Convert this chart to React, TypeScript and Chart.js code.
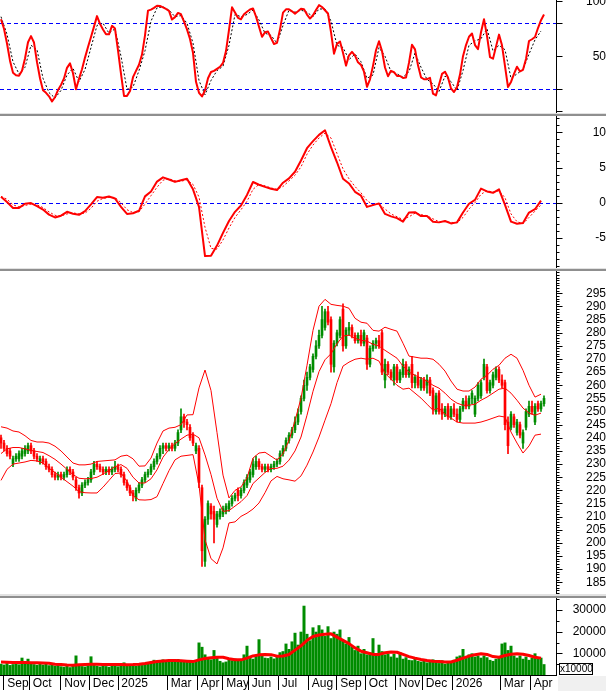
import React, { useEffect, useRef } from 'react';
import { Chart, registerables } from 'chart.js';

Chart.register(...registerables);

// ---------------- data ----------------
const monthTicks = [1, 9.5, 20, 29.5, 39, 55.5, 65.5, 74, 82.5, 92.5, 102.5, 112, 121.5, 131.5, 140.5, 150.5, 166.5, 176.5];
const monthLabels = ['Sep', 'Oct', 'Nov', 'Dec', '2025', 'Mar', 'Apr', 'May', 'Jun', 'Jul', 'Aug', 'Sep', 'Oct', 'Nov', 'Dec', '2026', 'Mar', 'Apr'];

const rsiTickLabels = [50, 100];
const rsiTickMarks = [0, 20, 50, 80, 100];
const rsiLevels = [20, 80];
const macdTickLabels = [-5, 0, 5, 10];
const macdLevels = [0];
const priceTickLabels = [185, 190, 195, 200, 205, 210, 215, 220, 225, 230, 235, 240, 245, 250, 255, 260, 265, 270, 275, 280, 285, 290, 295];
const volumeTickLabels = [10000, 20000, 30000];
const volumeMinorTicks = [5000, 15000, 25000, 35000];

// [open, high, low, close]
const ohlc: number[][] = [
  [240,241,236,238],[238,239,235,236],[236,237,233,234],[235,236,232,233],[230,233,229,232],
  [232,234,231,233],[232,235,231,234],[233,236,232,235],[234,237,233,236],[235,238,234,237],
  [237,238,234,235],[235,236,232,233],[233,234,231,232],[231,233,230,232],[232,233,230,231],
  [231,232,228,229],[229,230,227,228],[228,229,225,226],[226,227,224,225],[225,227,224,226],
  [226,227,224,225],[225,227,224,226],[226,229,225,228],[228,229,226,227],[227,228,224,225],
  [224,225,220,221],[221,222,217,219],[219,223,218,222],[222,224,221,223],[223,225,222,224],
  [224,228,223,227],[227,231,226,230],[230,231,228,229],[229,230,227,228],[228,229,226,227],
  [227,229,226,228],[228,229,226,227],[227,229,226,228],[228,231,227,229],[229,230,227,228],
  [228,229,225,226],[226,227,222,223],[223,224,220,221],[221,222,218,219],[219,220,216,218],
  [217,221,216,220],[220,223,219,222],[222,225,221,224],[224,227,223,226],[226,228,225,227],
  [227,230,226,229],[229,232,228,231],[231,234,230,233],[233,237,232,236],[236,238,234,237],
  [237,238,235,236],[236,238,235,237],[237,238,235,236],[236,239,235,238],[238,243,237,242],
  [243,251,242,248],[248,249,244,246],[246,247,243,245],[244,245,239,240],[241,242,237,238],
  [235,238,234,237],[236,237,221,223],[221,222,191,197],[193,210,191,209],[209,216,207,215],
  [214,215,209,211],[212,214,200,209],[207,212,206,211],[210,213,209,212],[211,214,210,213],
  [212,215,211,214],[213,216,212,215],[215,218,214,217],[217,219,216,218],[220,221,216,218],
  [218,221,217,220],[220,224,219,223],[222,226,221,225],[224,228,223,227],[226,232,225,230],
  [229,233,228,231],[231,232,228,229],[229,230,227,228],[228,230,227,229],[229,230,227,228],
  [228,230,227,229],[229,231,228,230],[230,232,229,231],[231,235,230,234],[234,237,233,236],
  [236,240,235,239],[239,242,238,241],[241,244,240,243],[243,248,242,246],[246,251,245,249],
  [250,256,249,255],[255,262,254,260],[260,265,258,263],[263,268,262,267],[266,272,265,271],
  [271,277,270,275],[275,281,274,279],[279,290,278,285],[282,289,281,288],[288,290,283,284],
  [285,286,265,268],[267,277,265,276],[276,281,275,280],[279,286,278,285],[289,291,273,275],
  [275,282,274,281],[281,284,279,282],[282,283,278,279],[279,280,276,277],[277,280,276,279],
  [279,281,275,276],[276,281,275,280],[278,279,266,268],[268,275,267,274],[274,277,273,276],
  [276,278,274,277],[277,279,274,275],[280,281,264,265],[262,270,259,268],[268,269,264,265],
  [265,266,262,263],[262,268,260,267],[267,268,261,262],[262,266,261,265],[264,270,263,268],
  [268,269,263,264],[264,267,263,266],[268,271,259,261],[261,264,259,263],[263,265,259,260],
  [259,263,258,262],[262,263,258,259],[260,264,257,262],[262,263,256,257],[258,259,249,251],
  [250,257,249,256],[257,258,249,250],[251,253,247,249],[249,252,248,251],[252,253,247,248],
  [248,252,247,251],[251,253,248,249],[249,251,246,247],[247,252,246,251],[251,255,250,254],
  [254,256,251,252],[252,256,251,255],[255,258,253,257],[249,256,248,255],[255,261,254,260],
  [256,262,255,261],[263,270,262,268],[267,268,257,258],[258,262,257,261],[260,265,259,264],
  [263,267,262,266],[266,267,261,262],[262,264,259,260],[261,262,243,245],[246,248,234,237],
  [244,250,243,249],[248,249,244,245],[242,247,241,246],[245,246,240,241],[238,243,236,242],
  [244,251,243,250],[249,254,248,252],[252,254,249,250],[246,253,245,252],[253,254,250,251],
  [251,254,250,253],[253,256,252,255],
];

const volume = [
  5200,4800,5500,4600,5000,5800,4900,8000,6200,7500,
  5400,5000,4700,5300,4800,5100,4500,4800,4300,4600,
  4000,3800,4400,3600,4200,9000,4600,4100,3900,4500,
  8600,5000,4300,3900,4600,4100,3800,4700,4400,4000,
  4600,5800,4300,4800,4500,4200,5200,4600,5400,5900,
  6200,7000,6400,6800,7200,6500,7000,6100,6600,7400,
  6800,6200,6900,6000,5800,6400,15000,13000,9500,8000,
  7200,11500,8500,6500,5800,6200,7000,6800,7600,6500,
  7000,9500,13500,8000,7500,8800,16500,9000,8000,7800,
  8500,7600,9000,10500,11000,14500,12000,15500,19500,14000,
  20000,32000,19000,16000,22000,20000,23000,21000,18000,22500,
  17000,20000,19000,21000,16000,14500,17500,13000,11500,13500,
  10000,12000,9500,10500,17000,9000,14000,11000,9500,10000,
  8500,9800,8000,10500,7500,8200,7000,6800,7500,6500,
  6200,7000,5800,6500,7200,6000,5500,6800,5200,6000,
  6500,7000,8500,9000,12000,8000,9500,10000,8500,9000,
  8000,9000,8200,7000,6500,7500,8000,14500,15000,11500,
  13500,9000,8000,9000,7500,8500,7000,8000,10000,7500,
  8000,5000,
];

// line series sampled every 2 bars
const volumeMA = [
  6000,5900,5800,5800,5800,5700,5700,5600,5400,5000,
  4800,4600,4500,4700,4900,5000,5000,4900,4800,4900,
  4800,4700,4800,5000,5300,5800,6200,6500,6700,6700,
  6600,6400,6200,7000,7600,8000,8200,8200,7500,7000,
  7000,7800,8800,9300,9500,9400,8700,8800,9500,11500,
  13500,16000,17800,18500,18800,19000,17500,16000,14500,12500,
  11000,10300,9500,9500,10300,10600,10500,9500,8500,7800,
  7200,6700,6400,6200,6000,6000,6800,7800,8700,9400,
  9800,9500,8500,8200,9000,9600,9800,9600,9000,8200,
  7800,
];

const bbUpper = [
  244.2,243.7,242.6,242.2,240.8,239.0,238.4,238.4,238.0,236.8,
  235.0,232.7,230.4,229.7,229.7,230.0,231.0,231.2,231.4,231.6,
  233.0,233.4,232.0,229.2,229.3,232.3,238.0,242.6,243.7,244.0,
  245.0,248.7,248.8,259.0,265.8,258.0,242.0,225.8,217.1,220.0,
  221.3,224.7,232.3,234.2,234.5,233.0,231.5,234.0,239.0,246.5,
  255.1,267.6,280.9,290.1,292.7,290.8,290.4,290.1,289.3,285.5,
  284.0,283.6,280.9,280.6,282.1,281.3,280.6,276.0,271.1,270.7,
  270.3,270.3,269.9,268.0,265.4,261.6,258.5,257.8,257.8,259.3,
  262.3,263.8,266.1,267.6,270.3,271.8,270.3,265.7,260.0,255.5,
  256.6,
];
const bbMiddle = [
  234.0,235.8,236.3,236.3,235.8,235.2,234.8,234.4,233.2,231.8,
  230.0,228.0,226.0,224.6,224.4,224.5,225.0,226.2,227.6,229.0,
  229.8,228.4,225.0,222.8,222.8,224.4,227.8,232.6,235.6,237.8,
  239.5,241.0,241.4,240.0,233.5,226.0,217.0,212.0,212.3,214.0,
  215.7,218.0,222.6,224.7,226.8,228.3,228.4,229.2,231.5,235.0,
  240.3,248.6,257.7,265.2,269.7,272.0,275.8,278.7,279.1,277.9,
  277.1,276.8,275.6,274.9,273.3,271.8,270.3,267.3,265.0,263.8,
  262.7,261.6,260.0,258.9,257.0,254.7,253.2,252.4,252.4,252.8,
  254.3,255.5,257.0,258.5,258.9,257.0,254.3,251.3,249.4,248.6,
  249.4,
];
const bbLower = [
  223.8,228.0,230.0,230.4,230.8,231.4,231.2,230.4,228.4,226.8,
  225.0,223.3,221.6,219.5,219.1,219.0,219.0,221.2,223.8,226.4,
  226.6,223.4,218.0,216.4,216.3,216.5,217.6,222.6,227.5,231.6,
  233.0,233.3,233.6,222.0,201.2,194.0,192.0,198.1,207.6,208.0,
  210.1,211.3,212.9,215.2,219.1,223.6,225.3,224.4,224.0,223.5,
  225.5,229.6,234.6,240.3,246.7,253.0,261.0,267.3,268.8,269.9,
  270.3,269.9,270.3,269.2,264.6,262.3,260.0,258.5,258.9,257.0,
  255.1,252.8,250.5,251.3,249.0,247.5,246.0,245.6,245.6,245.6,
  246.0,246.7,247.5,248.3,247.9,242.2,238.0,234.2,236.9,241.0,
  241.4,
];

// one value per bar
const rsi = [
  83.7,75,61.6,46,35,32.7,32.3,36.8,48,62.8,
  68.3,62.5,44.7,30,19.2,16.8,13.6,9,12.8,19.3,
  24,29.9,39.5,43.6,34.6,20,29.5,38.2,48.8,58.5,
  67.6,77,86.5,79.5,74.3,70,70,77.7,75.2,55.5,
  34,14,14,18.4,31,36.8,42.3,51.6,69.1,91.5,
  92.4,94,96,95.8,94.5,93,91.3,83.4,85.6,89.4,
  88.2,81.5,74.5,65.7,53.2,26.8,16.8,13.5,19,30,
  35.7,36.7,38.6,40.5,44,54.8,74,94.5,89.9,85,
  83.7,88.3,90.5,92.6,93.5,86.2,76.9,67.7,71.8,72.5,
  66.6,61.2,62.2,74.5,89.7,92.7,92.7,90.9,88.8,90.9,
  93.3,92.8,87.9,84.3,87.3,92,96.5,94.8,91.9,88.9,
  72,52.4,61.3,63.5,53.2,41.5,50.9,54,50.6,44.5,
  42.2,36,22.2,29.1,41.3,55.5,63.7,54.8,39.8,31.9,
  36.8,35.5,32.1,32.1,30.3,30.7,44.2,60.5,56.3,41.8,
  30.9,29.1,29.2,30.4,16,14.5,24.2,34,36,30.7,
  20.8,17.5,21.8,33.4,50.1,60.2,67.8,70.7,60.2,56.5,
  71.9,83.7,68.5,49.2,47.8,58.8,69.7,60,41.1,22,
  26.7,34.1,40.5,36.2,37.7,47.6,63.9,65.5,67.5,75.7,
  82.8,88,
];
// sampled every 2 bars
const rsiSignal = [
  86,70,45,34,40,60,56,30,17,12,
  19,33,39,27,38,58,78,80,71,75,
  50,20,22,37,55,82,94,95,92,86,
  87,80,62,28,15,28,37,41,60,88,
  86,88,92,83,71,69,62,78,92,90,
  92,90,86,93,93,82,60,58,47,52,
  45,30,33,58,50,36,34,31,36,53,
  40,29,25,18,32,27,19,37,60,64,
  66,75,55,60,56,30,34,38,52,65,
  73,
];
const macd = [
  0.85,0.1,-0.76,-0.74,-0.15,-0.05,-0.5,-0.98,-1.7,-2.1,
  -1.85,-1.3,-1.57,-1.72,-1.2,-0.25,0.8,0.7,0.88,0.6,
  -0.6,-1.6,-1.5,-1.15,0.9,1.6,3.0,3.6,3.3,2.96,
  3.2,3.4,1.9,-0.6,-7.6,-7.55,-6.1,-4.3,-2.6,-1.3,
  -0.4,1.1,2.94,2.55,2.25,1.98,1.8,2.84,3.45,4.4,
  6.0,7.75,8.75,9.65,10.3,7.9,5.75,3.4,2.74,1.55,
  1.0,-0.6,-0.35,-0.1,-1.6,-1.95,-2.2,-2.7,-1.4,-1.35,
  -1.9,-1.9,-2.7,-2.8,-2.6,-2.95,-2.8,-1.4,-0.15,0.4,
  2.0,1.6,1.4,1.9,-0.3,-2.7,-3.0,-2.9,-1.4,-0.93,
  0.3,
];
const macdSignal = [
  0.9,0.5,-0.3,-0.6,-0.4,-0.2,-0.3,-0.7,-1.3,-1.8,
  -1.9,-1.6,-1.45,-1.6,-1.5,-0.8,0.2,0.6,0.75,0.75,
  0.0,-1.0,-1.4,-1.3,-0.2,1.0,2.2,3.2,3.4,3.1,
  3.05,3.25,2.6,0.8,-3.5,-6.5,-6.6,-5.3,-3.6,-2.1,
  -1.0,0.2,1.9,2.6,2.4,2.1,1.9,2.3,3.1,3.9,
  5.1,6.9,8.2,9.2,9.9,9.2,7.0,4.8,3.4,2.3,
  1.4,0.3,-0.3,-0.2,-0.9,-1.6,-2.0,-2.4,-2.0,-1.5,
  -1.7,-1.85,-2.3,-2.7,-2.7,-2.8,-2.85,-2.1,-0.9,0.0,
  1.2,1.7,1.5,1.7,0.7,-1.6,-2.7,-3.0,-2.1,-1.2,
  -0.3,
];

// ---------------- styling / layout ----------------
const RED = '#ff0000';
const GREEN = '#008c00';
const BLUE = '#0000ff';
const FONT = { family: '"Liberation Sans", Arial, sans-serif', size: 12 };
const LINE_STEP = 2;
const PLOT_W = 556;
const AXIS_W = 50;
const X_MIN = -1 / 3;
const X_MAX = X_MIN + PLOT_W / 3;

const pts = (arr: number[], step = 1) => arr.map((y, i) => ({ x: i * step, y }));
const range = (a: number, b: number, s: number) => {
  const out: number[] = [];
  for (let v = a; v <= b + 1e-9; v += s) out.push(Math.round(v * 1000) / 1000);
  return out;
};

function rulerPlugin(major: number[], minor: number[], majorLen: number, minorLen: number) {
  return {
    id: 'ruler',
    afterDraw(chart: any) {
      const s = chart.scales.y;
      const ca = chart.chartArea;
      const ctx = chart.ctx;
      ctx.save();
      ctx.strokeStyle = '#000';
      ctx.lineWidth = 1;
      ctx.setLineDash([]);
      ctx.beginPath();
      const x0 = Math.round(ca.right) + 0.5;
      ctx.moveTo(x0, ca.top);
      ctx.lineTo(x0, ca.bottom);
      const tick = (v: number, len: number) => {
        const y = Math.round(s.getPixelForValue(v)) + 0.5;
        if (y < ca.top || y > ca.bottom) return;
        ctx.moveTo(x0, y);
        ctx.lineTo(x0 + len, y);
      };
      minor.forEach((v) => tick(v, minorLen));
      major.forEach((v) => tick(v, majorLen));
      ctx.stroke();
      ctx.restore();
    },
  };
}

function levelPlugin(levels: number[]) {
  return {
    id: 'levels',
    beforeDatasetsDraw(chart: any) {
      const s = chart.scales.y;
      const ca = chart.chartArea;
      const ctx = chart.ctx;
      ctx.save();
      ctx.strokeStyle = BLUE;
      ctx.lineWidth = 1;
      ctx.setLineDash([4, 3]);
      ctx.beginPath();
      levels.forEach((v) => {
        const y = Math.round(s.getPixelForValue(v)) + 0.5;
        ctx.moveTo(ca.left, y);
        ctx.lineTo(ca.right, y);
      });
      ctx.stroke();
      ctx.restore();
    },
  };
}

function xScale(show: boolean): any {
  if (!show) return { type: 'linear', min: X_MIN, max: X_MAX, display: false, offset: false };
  return {
    type: 'linear',
    min: X_MIN,
    max: X_MAX,
    offset: false,
    position: 'bottom',
    afterBuildTicks: (s: any) => {
      s.ticks = monthTicks.map((value) => ({ value }));
    },
    afterFit: (s: any) => {
      s.height = 16;
      s.paddingLeft = 0;
      s.paddingRight = 0;
    },
    grid: { display: true, drawOnChartArea: false, drawTicks: true, tickLength: 15, color: '#000', lineWidth: 1, offset: false },
    border: { display: true, color: '#000', width: 1 },
    ticks: {
      autoSkip: false,
      maxRotation: 0,
      minRotation: 0,
      align: 'start',
      padding: -13.5,
      color: '#000',
      font: FONT,
      callback: (_v: any, i: number) => ' ' + monthLabels[i],
    },
  };
}

function yScale(min: number, max: number, labels: number[], rightEdge: number, widest: number): any {
  return {
    type: 'linear',
    position: 'right',
    min,
    max,
    afterBuildTicks: (s: any) => {
      s.ticks = labels.map((value) => ({ value }));
    },
    afterFit: (s: any) => {
      s.width = AXIS_W;
      s.paddingTop = 0;
      s.paddingBottom = 0;
    },
    grid: { display: false, drawTicks: false },
    border: { display: false },
    ticks: {
      autoSkip: false,
      crossAlign: 'far',
      padding: rightEdge - widest,
      color: '#000',
      font: FONT,
      callback: (v: number) => String(v),
    },
  };
}

const common = {
  responsive: false,
  maintainAspectRatio: false,
  animation: false,
  devicePixelRatio: 1,
  events: [],
  layout: { padding: 0 },
  plugins: { legend: { display: false }, tooltip: { enabled: false } },
};

const lineDs = (data: any[], color: string, width: number, dash: number[] = [], order = 1) => ({
  type: 'line',
  data,
  borderColor: color,
  borderWidth: width,
  borderDash: dash,
  pointRadius: 0,
  tension: 0,
  fill: false,
  borderJoinStyle: 'round',
  order,
});

function rsiConfig(): any {
  return {
    type: 'line',
    data: {
      datasets: [
        lineDs(pts(rsi), RED, 2, [], 1),
        lineDs(pts(rsiSignal, LINE_STEP), '#000', 1, [2, 2], 2),
      ],
    },
    options: { ...common, scales: { x: xScale(false), y: yScale(-1.55, 101.18, rsiTickLabels, 48, 20.0) } },
    plugins: [levelPlugin(rsiLevels), rulerPlugin(rsiTickMarks, [], 6, 3)],
  };
}

function macdConfig(): any {
  return {
    type: 'line',
    data: {
      datasets: [
        lineDs(pts(macd, LINE_STEP), RED, 2, [], 1),
        lineDs(pts(macdSignal, LINE_STEP), RED, 1, [2, 2], 2),
      ],
    },
    options: { ...common, scales: { x: xScale(false), y: yScale(-9.29, 12.33, macdTickLabels, 39, 13.35) } },
    plugins: [levelPlugin(macdLevels), rulerPlugin(macdTickLabels, range(-9, 12, 1), 6, 3)],
  };
}

function priceConfig(): any {
  const colors = ohlc.map((c) => (c[3] >= c[0] ? GREEN : RED));
  return {
    type: 'bar',
    data: {
      datasets: [
        lineDs(pts(bbUpper, LINE_STEP), RED, 1, [], 1),
        lineDs(pts(bbMiddle, LINE_STEP), RED, 1, [], 1),
        lineDs(pts(bbLower, LINE_STEP), RED, 1, [], 1),
        {
          type: 'bar',
          data: ohlc.map((c, i) => ({ x: i, y: [c[0], c[3]] })),
          backgroundColor: colors,
          barThickness: 2,
          grouped: false,
          borderWidth: 0,
          order: 2,
        },
        {
          type: 'bar',
          data: ohlc.map((c, i) => ({ x: i, y: [c[2], c[1]] })),
          backgroundColor: colors,
          barThickness: 1,
          grouped: false,
          borderWidth: 0,
          order: 3,
        },
      ],
    },
    options: { ...common, scales: { x: xScale(false), y: yScale(180.55, 303.49, priceTickLabels, 47, 20.0) } },
    plugins: [rulerPlugin(priceTickLabels, range(181, 303, 1), 6, 3)],
  };
}

function volumeConfig(): any {
  return {
    type: 'bar',
    data: {
      datasets: [
        lineDs(pts(volumeMA, LINE_STEP), RED, 3, [], 1),
        {
          type: 'bar',
          data: pts(volume),
          backgroundColor: GREEN,
          barThickness: 3,
          grouped: false,
          borderWidth: 0,
          inflateAmount: 0,
          order: 2,
        },
      ],
    },
    options: { ...common, scales: { x: xScale(true), y: yScale(0, 35566, volumeTickLabels, 47, 33.37) } },
    plugins: [rulerPlugin(volumeTickLabels, volumeMinorTicks, 6, 3)],
  };
}

const panels = [
  { top: 0, height: 113 },
  { top: 116, height: 152 },
  { top: 271, height: 323 },
  { top: 598, height: 93 },
];

const separators = [
  { top: 113, light: 1, dark: 2 },
  { top: 268, light: 1, dark: 2 },
  { top: 594, light: 2, dark: 2 },
];

export default function App() {
  const r1 = useRef<HTMLCanvasElement>(null);
  const r2 = useRef<HTMLCanvasElement>(null);
  const r3 = useRef<HTMLCanvasElement>(null);
  const r4 = useRef<HTMLCanvasElement>(null);

  useEffect(() => {
    const charts: Chart[] = [];
    const builders = [rsiConfig, macdConfig, priceConfig, volumeConfig];
    [r1, r2, r3, r4].forEach((r, i) => {
      if (r.current) charts.push(new Chart(r.current, builders[i]()));
    });
    return () => charts.forEach((c) => c.destroy());
  }, []);

  const refs = [r1, r2, r3, r4];
  return (
    <div style={{ position: 'fixed', left: 0, top: 0, width: 606, height: 691, background: '#fff', overflow: 'hidden' }}>
      {panels.map((p, i) => (
        <canvas
          key={i}
          ref={refs[i]}
          width={606}
          height={p.height}
          style={{ position: 'absolute', left: 0, top: p.top, width: 606, height: p.height }}
        />
      ))}
      {separators.map((s, i) => (
        <React.Fragment key={i}>
          <div style={{ position: 'absolute', left: 0, top: s.top, width: 606, height: s.light, background: '#e2e2e2' }} />
          <div style={{ position: 'absolute', left: 0, top: s.top + s.light, width: 606, height: s.dark, background: '#8f8f8f' }} />
        </React.Fragment>
      ))}
      <div style={{ position: 'absolute', left: 558, top: 676, width: 48, height: 15, background: '#f0f0f0' }} />
      <div
        style={{
          position: 'absolute',
          left: 559,
          top: 663,
          width: 34,
          height: 12,
          boxSizing: 'border-box',
          border: '1px solid #000',
          background: '#fff',
          fontFamily: '"Liberation Sans", Arial, sans-serif',
          fontSize: 10,
          lineHeight: '10px',
          textAlign: 'center',
          color: '#000',
          overflow: 'hidden',
          whiteSpace: 'nowrap',
        }}
      >
        x10000
      </div>
    </div>
  );
}
